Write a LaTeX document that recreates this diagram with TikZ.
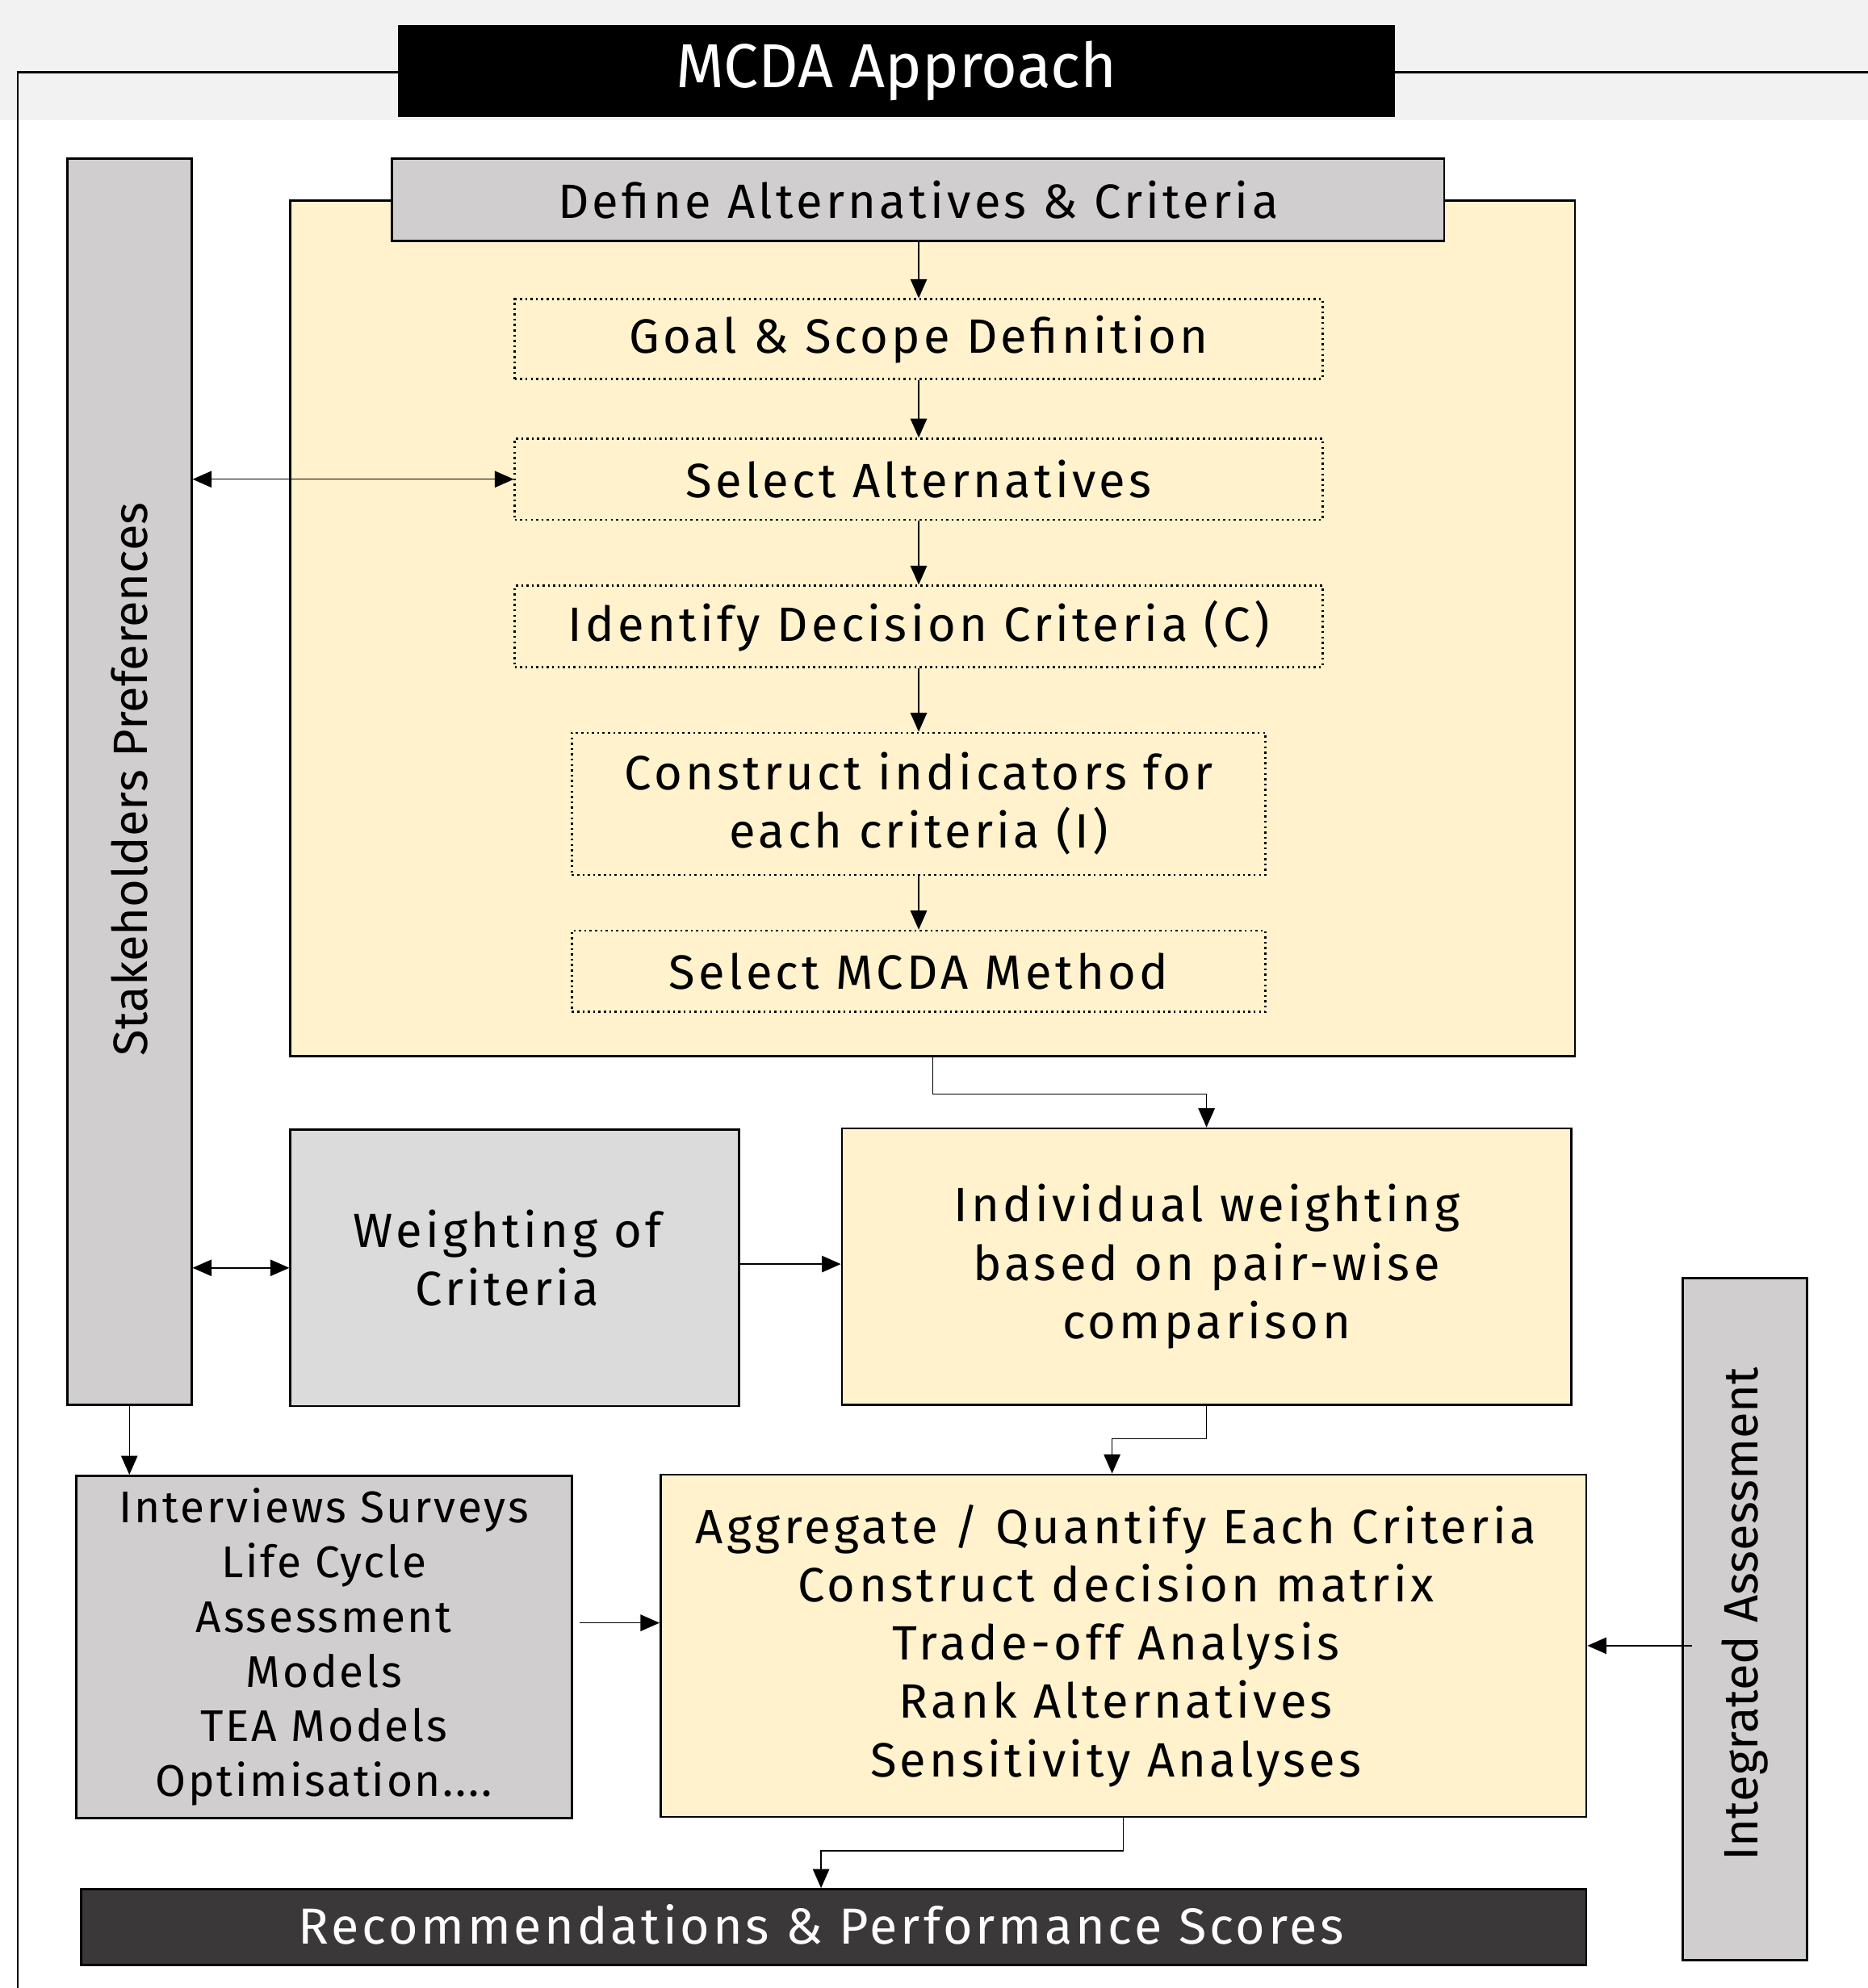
\documentclass[tikz,border=0pt]{standalone}
\usepackage{fontspec}
\setmainfont{Fira Sans}
\newfontfamily\bodyfont[LetterSpace=7.2]{Fira Sans}
\newfontfamily\smallfont[LetterSpace=5]{Fira Sans}
\newfontfamily\recfont[LetterSpace=6]{Fira Sans}
\usetikzlibrary{arrows.meta}
\definecolor{bandgray}{HTML}{F2F2F2}
\definecolor{boxgray}{HTML}{D0CECE}
\definecolor{wgray}{HTML}{DBDBDB}
\definecolor{paleyellow}{HTML}{FFF2CC}
\definecolor{darkbox}{HTML}{3A3838}
\begin{document}
\begin{tikzpicture}[x=1pt,y=-1pt,
  every node/.style={inner sep=0pt, align=center, font=\bodyfont\fontsize{38}{46}\selectfont},
  solidbox/.style={draw=black, line width=1.7pt},
  graybox/.style={solidbox, fill=boxgray},
  lgraybox/.style={solidbox, fill=wgray},
  yellowbox/.style={solidbox, fill=paleyellow},
  dotbox/.style={draw=black, line width=1.6pt, dash pattern=on 1.6pt off 2.6pt, fill=paleyellow},
  vtext/.style={rotate=90, font=\rmfamily\fontsize{38}{46}\selectfont},
  tip/.tip={Triangle[length=15pt,width=13pt]},
  conn/.style={draw=black, line width=0.9pt, -tip},
  biconn/.style={draw=black, line width=0.9pt, tip-tip},
]
\useasboundingbox (0,0) rectangle (1473,1568);
% background band and frame
\fill[bandgray] (0,0) rectangle (1473,95);
\draw[line width=1.6pt] (1480,57) -- (14,57) -- (14,1580);
% title
\node[fill=black, minimum width=786pt, minimum height=72pt, text=white,
      font=\rmfamily\fontsize{49}{52}\selectfont] (title) at (707,56) {MCDA Approach};
% stakeholders
\node[graybox, minimum width=98pt, minimum height=983pt,
      label={[vtext, xshift=2pt]center:Stakeholders Preferences}] (stake) at (102,616.5) {};
% big yellow
\node[yellowbox, minimum width=1013pt, minimum height=675pt] (big) at (735.5,495.5) {};
\node[graybox, minimum width=830pt, minimum height=65pt] (define) at (724,157.5) {Define Alternatives \& Criteria};
\node[dotbox, minimum width=637pt, minimum height=63pt] (goal) at (724.5,267.5) {Goal \& Scope Definition};
\node[dotbox, minimum width=637pt, minimum height=64pt] (selalt) at (724.5,378) {Select Alternatives};
\node[dotbox, minimum width=637pt, minimum height=64pt] (ident) at (724.5,494) {Identify Decision Criteria (C)};
\node[dotbox, minimum width=547pt, minimum height=112pt] (constr) at (724.5,634) {Construct indicators for\\each criteria (I)};
\node[dotbox, minimum width=547pt, minimum height=64pt] (method) at (724.5,766) {Select MCDA Method};
% middle row
\node[lgraybox, minimum width=354pt, minimum height=218pt,
      label={[xshift=-6pt, yshift=8pt]center:Weighting of\\Criteria}] (weight) at (406,1000) {};
\node[yellowbox, minimum width=575pt, minimum height=218pt] (indiv) at (951.5,999) {Individual weighting\\based on pair-wise\\comparison};
% lower row
\node[graybox, minimum width=391pt, minimum height=270pt,
      font=\smallfont\fontsize{35}{43.2}\selectfont] (interv) at (255.5,1299)
      {Interviews Surveys\\Life Cycle\\Assessment\\Models\\TEA Models\\Optimisation....};
\node[yellowbox, minimum width=730pt, minimum height=270pt,
      label={[xshift=-6pt]center:Aggregate / Quantify Each Criteria\\Construct decision matrix\\Trade-off Analysis\\Rank Alternatives\\Sensitivity Analyses}] (aggr) at (886,1298) {};
\node[graybox, minimum width=98pt, minimum height=538pt,
      label={[vtext, xshift=4pt]center:Integrated Assessment}] (integ) at (1376,1277) {};
\node[solidbox, fill=darkbox, minimum width=1187pt, minimum height=60pt,
      label={[text=white, xshift=-10pt, yshift=2pt, font=\recfont\fontsize{40}{44}\selectfont]center:Recommendations \& Performance Scores}] (recom) at (657.5,1520) {};
% connectors
\draw[conn] (define.south -| goal.north) -- (goal.north);
\draw[conn] (goal.south) -- (selalt.north);
\draw[conn] (selalt.south) -- (ident.north);
\draw[conn] (ident.south) -- (constr.north);
\draw[conn] (constr.south) -- (method.north);
\draw[biconn] (stake.east |- selalt.west) -- (selalt.west);
\draw[conn] (big.south) -- ++(0,29) -| (indiv.north);
\draw[biconn] (stake.east |- weight.west) -- (weight.west);
\draw[conn] (weight.east |- 0,997) -- (indiv.west |- 0,997);
\draw[conn] (indiv.south) -- ++(0,26) -| ([xshift=-9pt]aggr.north);
\draw[conn] (stake.south) -- (stake.south |- interv.north);
\draw[conn, shorten <=5pt] (interv.east |- 0,1280) -- (aggr.west |- 0,1280);
\draw[conn] ([xshift=8pt]aggr.east -| integ.west) -- (aggr.east);
\draw[conn] (aggr.south) -- ++(0,26) -| ([xshift=-10pt]recom.north);
\end{tikzpicture}
\end{document}
